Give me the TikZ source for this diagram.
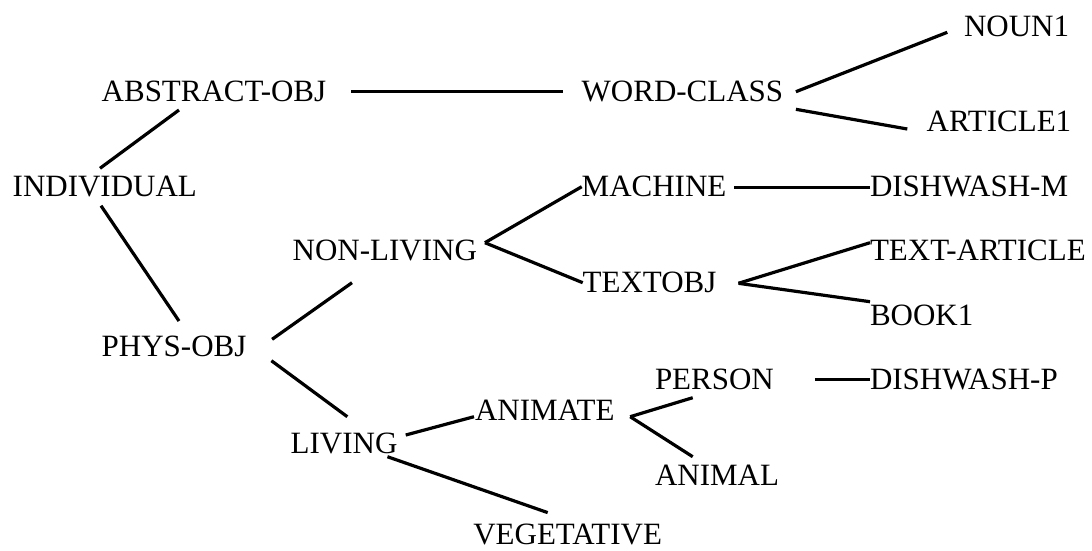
\documentclass[tikz,border=0pt]{standalone}
\usepackage{fontspec}
\setmainfont{Liberation Serif}
\begin{document}
\begin{tikzpicture}[x=1pt,y=-1pt,
  lbl/.style={inner sep=0pt,outer sep=0pt,anchor=base west,font=\fontsize{31}{36}\selectfont},
  conn/.style={line width=3.2pt,black}]
\useasboundingbox (0,0) rectangle (1092,550);
% nodes
\node[lbl] (abs) at (101.7,101.7) {ABSTRACT-OBJ};
\node[lbl] (ind) at (12.7,196.7) {INDIVIDUAL};
\node[lbl] (phys) at (101.7,356.7) {PHYS-OBJ};
\node[lbl] (word) at (581.7,101.7) {WORD-CLASS};
\node[lbl] (noun) at (964,36.7) {NOUN1};
\node[lbl] (art) at (926.7,131.7) {ARTICLE1};
\node[lbl] (nonl) at (292.7,260) {NON-LIVING};
\node[lbl] (mach) at (581.7,196.7) {MACHINE};
\node[lbl] (dishm) at (870,196.7) {DISHWASH-M};
\node[lbl] (text) at (582.7,292.7) {TEXTOBJ};
\node[lbl] (textart) at (870,260) {TEXT-ARTICLE};
\node[lbl] (book) at (870,325) {BOOK1};
\node[lbl] (living) at (290.7,453.3) {LIVING};
\node[lbl] (animate) at (475,420.7) {ANIMATE};
\node[lbl] (person) at (655,389.3) {PERSON};
\node[lbl] (animal) at (655,485) {ANIMAL};
\node[lbl] (dishp) at (870,389.3) {DISHWASH-P};
\node[lbl] (veg) at (473.3,544) {VEGETATIVE};
% connectors
\draw[conn] ([shift={(87.3,-28.4)}]ind.base west) -- ([shift={(77.3,8.3)}]abs.base west);
\draw[conn] ([shift={(88.3,9)}]ind.base west) -- ([shift={(77.3,-35.7)}]phys.base west);
\draw[conn] ([shift={(25,-10)}]abs.base east) -- ([shift={(-18.7,-10)}]word.base west);
\draw[conn] ([shift={(12.7,-10)}]word.base east) -- ([shift={(-16.7,-4.4)}]noun.base west);
\draw[conn] ([shift={(12.7,7.6)}]word.base east) -- ([shift={(-19.4,-2.7)}]art.base west);
\draw[conn] ([shift={(25.7,-17.4)}]phys.base east) -- ([shift={(59.3,22.7)}]nonl.base west);
\draw[conn] ([shift={(25,4)}]phys.base east) -- ([shift={(56.6,-36.6)}]living.base west);
\draw[conn] ([shift={(8,-17.3)}]nonl.base east) -- ([shift={(0,-10)}]mach.base west);
\draw[conn] ([shift={(8,-17.3)}]nonl.base east) -- ([shift={(0,-10)}]text.base west);
\draw[conn] ([shift={(8,-9.4)}]mach.base east) -- ([shift={(0,-9.4)}]dishm.base west);
\draw[conn] ([shift={(22,-9.4)}]text.base east) -- ([shift={(0,-17.3)}]textart.base west);
\draw[conn] ([shift={(22,-9.4)}]text.base east) -- ([shift={(0,-23.3)}]book.base west);
\draw[conn] ([shift={(8.3,-18.3)}]living.base east) -- ([shift={(-1,-4)}]animate.base west);
\draw[conn] ([shift={(-10,3.4)}]living.base east) -- ([shift={(74.4,-31.4)}]veg.base west);
\draw[conn] ([shift={(15.7,-4)}]animate.base east) -- ([shift={(37.7,8.4)}]person.base west);
\draw[conn] ([shift={(15.7,-4)}]animate.base east) -- ([shift={(37.7,-28.3)}]animal.base west);
\draw[conn] ([shift={(41,-10)}]person.base east) -- ([shift={(0,-10)}]dishp.base west);
\end{tikzpicture}
\end{document}
